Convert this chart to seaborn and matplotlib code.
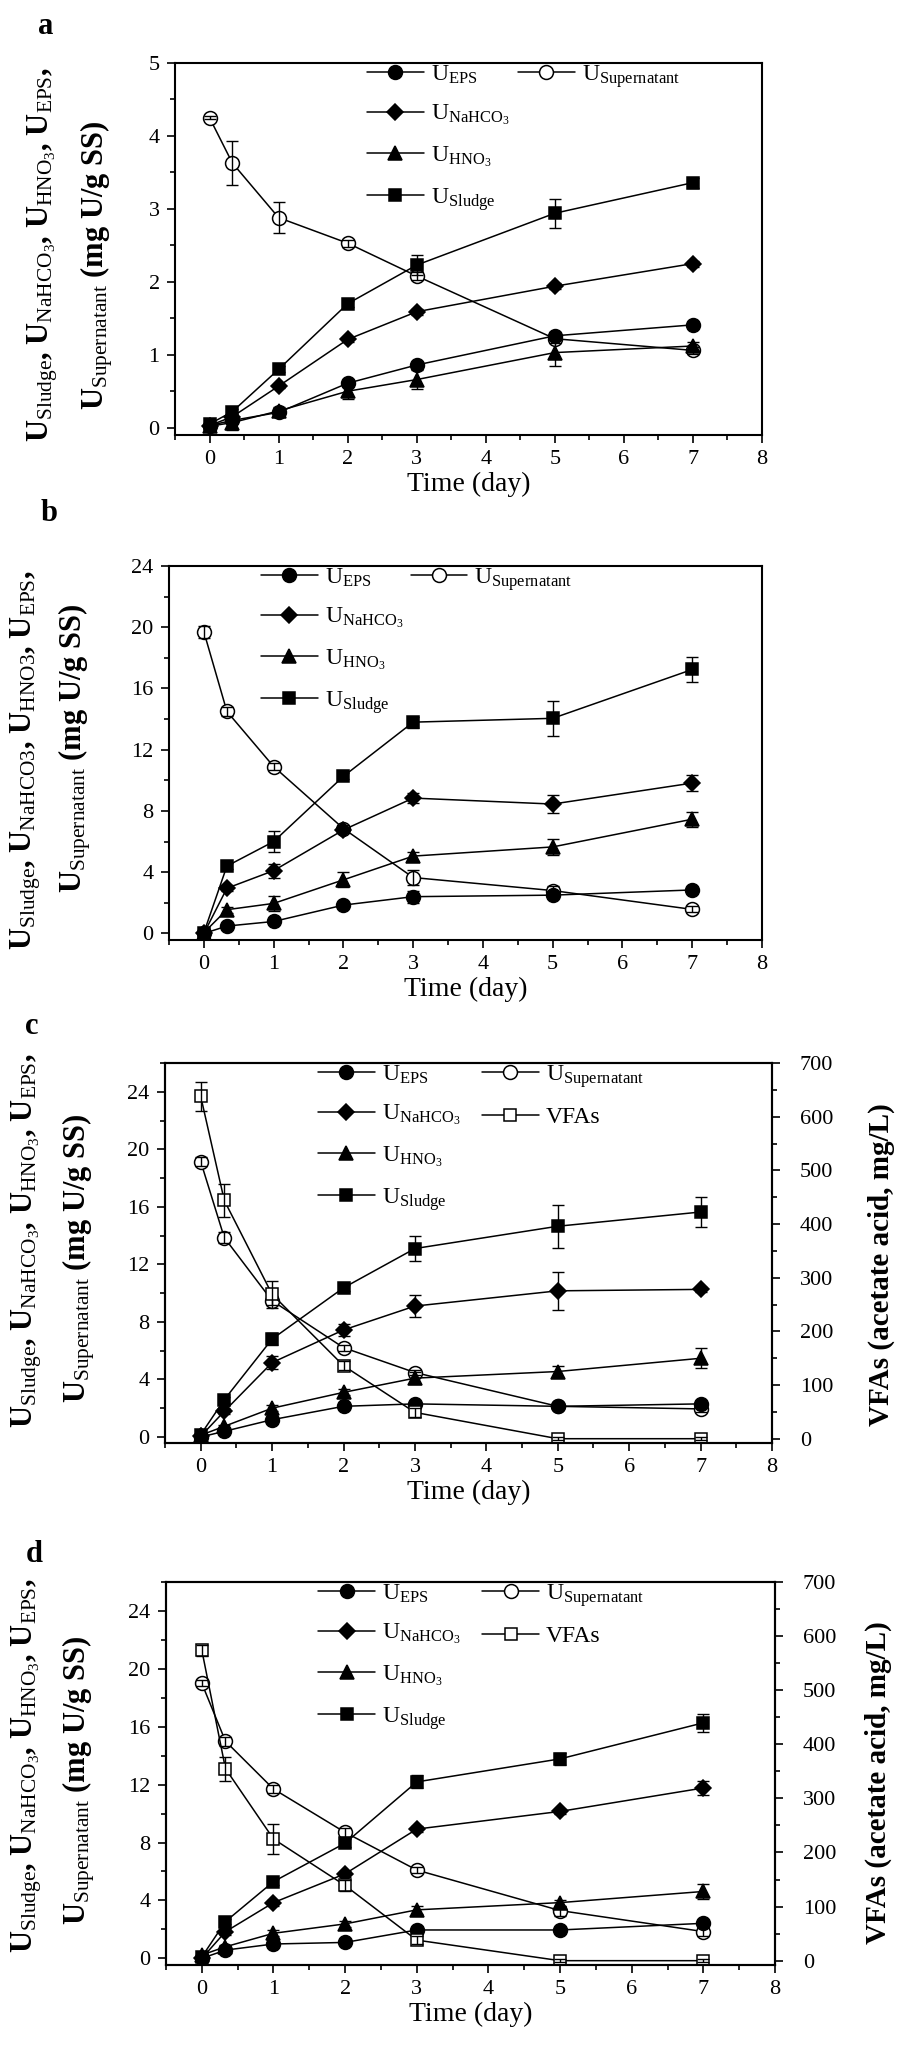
import numpy as np
import pandas as pd
import seaborn as sns
import matplotlib.pyplot as plt
from matplotlib.lines import Line2D
from matplotlib.ticker import MultipleLocator

# =============================================================================
# Data
# =============================================================================
days = [0, 0.33, 1, 2, 3, 5, 7]

# panel a
a_eps = [0.03, 0.10, 0.21, 0.61, 0.86, 1.26, 1.41]
a_eps_err = [0.02, 0.02, 0.03, 0.04, 0.04, 0.05, 0.04]
a_sup = [4.25, 3.63, 2.88, 2.53, 2.08, 1.22, 1.06]
a_sup_err = [0.02, 0.30, 0.21, 0.05, 0.06, 0.06, 0.05]
a_nahco3 = [0.03, 0.15, 0.57, 1.21, 1.59, 1.94, 2.25]
a_nahco3_err = [0.02, 0.03, 0.03, 0.03, 0.04, 0.04, 0.04]
a_hno3 = [0.02, 0.07, 0.23, 0.50, 0.66, 1.03, 1.12]
a_hno3_err = [0.02, 0.10, 0.05, 0.10, 0.13, 0.18, 0.06]
a_sludge = [0.05, 0.22, 0.80, 1.70, 2.23, 2.94, 3.36]
a_sludge_err = [0.02, 0.04, 0.04, 0.04, 0.14, 0.20, 0.07]

# panel b
b_eps = [0.0, 0.48, 0.78, 1.85, 2.40, 2.50, 2.84]
b_eps_err = [0.1, 0.1, 0.1, 0.1, 0.4, 0.15, 0.1]
b_sup = [19.7, 14.5, 10.9, 6.85, 3.65, 2.80, 1.57]
b_sup_err = [0.4, 0.3, 0.2, 0.2, 0.5, 0.3, 0.2]
b_nahco3 = [0.0, 2.95, 4.10, 6.76, 8.84, 8.45, 9.82]
b_nahco3_err = [0.1, 0.2, 0.45, 0.2, 0.3, 0.6, 0.5]
b_hno3 = [0.05, 1.55, 1.96, 3.50, 5.05, 5.65, 7.46]
b_hno3_err = [0.1, 0.2, 0.5, 0.5, 0.3, 0.5, 0.5]
b_sludge = [0.05, 4.40, 6.00, 10.26, 13.80, 14.05, 17.24]
b_sludge_err = [0.1, 0.2, 0.7, 0.2, 0.35, 1.15, 0.8]

# panel c
c_eps = [0.0, 0.39, 1.20, 2.13, 2.30, 2.13, 2.30]
c_eps_err = [0.1, 0.1, 0.1, 0.1, 0.1, 0.1, 0.1]
c_sup = [19.15, 13.86, 9.47, 6.21, 4.48, 2.13, 1.95]
c_sup_err = [0.3, 0.4, 0.3, 0.2, 0.2, 0.2, 0.2]
c_nahco3 = [0.05, 1.78, 5.17, 7.44, 9.10, 10.16, 10.26]
c_nahco3_err = [0.1, 0.2, 0.45, 0.4, 0.75, 1.3, 0.2]
c_hno3 = [0.12, 0.74, 2.00, 3.10, 4.09, 4.55, 5.47]
c_hno3_err = [0.1, 0.1, 0.2, 0.2, 0.4, 0.4, 0.7]
c_sludge = [0.16, 2.59, 6.81, 10.37, 13.10, 14.65, 15.64]
c_sludge_err = [0.2, 0.2, 0.4, 0.2, 0.9, 1.5, 1.05]
c_vfa = [638, 444, 269, 136, 49, 0, 0]
c_vfa_err = [27, 30, 25, 8, 8, 3, 3]

# panel d
d_eps = [0.0, 0.57, 0.99, 1.10, 1.96, 1.96, 2.42]
d_eps_err = [0.1, 0.1, 0.1, 0.1, 0.2, 0.1, 0.1]
d_sup = [19.0, 15.0, 11.7, 8.70, 6.10, 3.30, 1.85]
d_sup_err = [0.2, 0.3, 0.3, 0.3, 0.2, 0.35, 0.3]
d_nahco3 = [0.0, 1.84, 3.85, 5.84, 8.93, 10.15, 11.77]
d_nahco3_err = [0.1, 0.2, 0.2, 0.2, 0.2, 0.2, 0.5]
d_hno3 = [0.23, 0.80, 1.73, 2.38, 3.35, 3.85, 4.62]
d_hno3_err = [0.1, 0.1, 0.2, 0.2, 0.3, 0.2, 0.5]
d_sludge = [0.10, 2.54, 5.30, 7.96, 12.19, 13.78, 16.27]
d_sludge_err = [0.1, 0.2, 0.2, 0.3, 0.45, 0.4, 0.6]
d_vfa = [574, 355, 225, 139, 38, 0, 0]
d_vfa_err = [10, 22, 28, 10, 8, 3, 3]

# =============================================================================
# Style
# =============================================================================
sns.set_theme(style='ticks')
plt.rcParams['font.family'] = ['Liberation Serif', 'DejaVu Serif']
plt.rcParams['mathtext.fontset'] = 'custom'
plt.rcParams['mathtext.rm'] = 'Liberation Serif'
plt.rcParams['mathtext.it'] = 'Liberation Serif:italic'
plt.rcParams['mathtext.bf'] = 'Liberation Serif:bold'
for k in ['axes.edgecolor', 'xtick.color', 'ytick.color', 'text.color', 'axes.labelcolor']:
    plt.rcParams[k] = 'black'

W, H = 898, 2045
fig = plt.figure(figsize=(W / 100, H / 100), dpi=100)


def box(l, t, r, b):
    # pixel box -> figure fraction rect
    return [l / W, 1 - b / H, (r - l) / W, (b - t) / H]


styles = {
    'eps': dict(marker='o', mfc='black', ms=10),
    'sup': dict(marker='o', mfc='white', ms=10),
    'nahco3': dict(marker='D', mfc='black', ms=8.5),
    'hno3': dict(marker='^', mfc='black', ms=10.5),
    'sludge': dict(marker='s', mfc='black', ms=9),
    'vfa': dict(marker='s', mfc='white', ms=9),
}

leg_labels = {
    'eps': r'$\mathrm{U}_{\mathrm{EPS}}$',
    'sup': r'$\mathrm{U}_{\mathrm{Supernatant}}$',
    'nahco3': r'$\mathrm{U}_{\mathrm{NaHCO_3}}$',
    'hno3': r'$\mathrm{U}_{\mathrm{HNO_3}}$',
    'sludge': r'$\mathrm{U}_{\mathrm{Sludge}}$',
    'vfa': 'VFAs',
}


def draw(ax, y, err, key):
    st = styles[key]
    sns.lineplot(x=days, y=y, ax=ax, color='black', linewidth=1.1,
                 marker=st['marker'], markersize=st['ms'],
                 markerfacecolor=st['mfc'], markeredgecolor='black',
                 markeredgewidth=1.1, estimator=None, sort=False, legend=False)
    h = ax.lines[-1]
    ax.errorbar(days, y, yerr=err, fmt='none', ecolor='black',
                elinewidth=1.0, capsize=4, capthick=1.0)
    return h


def style_axis(ax, ymax, ymin, ystep):
    ax.set_xlim(-0.5, 8)
    ax.set_ylim(ymin, ymax)
    ax.xaxis.set_major_locator(MultipleLocator(1))
    ax.xaxis.set_minor_locator(MultipleLocator(0.5))
    ax.yaxis.set_major_locator(MultipleLocator(ystep))
    ax.yaxis.set_minor_locator(MultipleLocator(ystep / 2))
    ax.tick_params(which='both', direction='out', top=False, right=False,
                   width=1.2, labelsize=16, pad=5)
    ax.tick_params(which='major', length=6)
    ax.tick_params(which='minor', length=3.5)
    for s in ax.spines.values():
        s.set_linewidth(1.5)
    ax.set_xlabel('Time (day)', fontsize=20, labelpad=2)
    ax.set_ylabel('')


def ylabel_lines(x1, y1, x2, y2, plain3=False):
    if plain3:
        l1 = (r'$\mathbf{U}_{\mathrm{Sludge}}$, $\mathbf{U}_{\mathrm{NaHCO3}}$, '
              r'$\mathbf{U}_{\mathrm{HNO3}}$, $\mathbf{U}_{\mathrm{EPS}}$,')
    else:
        l1 = (r'$\mathbf{U}_{\mathrm{Sludge}}$, $\mathbf{U}_{\mathrm{NaHCO_3}}$, '
              r'$\mathbf{U}_{\mathrm{HNO_3}}$, $\mathbf{U}_{\mathrm{EPS}}$,')
    l2 = r'$\mathbf{U}_{\mathrm{Supernatant}}$ (mg U/g SS)'
    fig.text(x1 / W, 1 - y1 / H, l1, rotation=90, ha='center', va='center',
             fontsize=22, fontweight='bold')
    fig.text(x2 / W, 1 - y2 / H, l2, rotation=90, ha='center', va='center',
             fontsize=22, fontweight='bold')


def add_legend(ax, handles, keys, anchor, colspace):
    blank = Line2D([], [], linestyle='none')
    hs = list(handles) + [blank] * (8 - len(handles))
    ls = [leg_labels[k] for k in keys] + [''] * (8 - len(keys))
    ax.legend(hs, ls, ncol=2, loc='upper left', bbox_to_anchor=anchor,
              frameon=False, fontsize=17, handlelength=2.4,
              handletextpad=0.3, columnspacing=colspace, labelspacing=0.72,
              borderaxespad=0, borderpad=0)


order = ['eps', 'nahco3', 'hno3', 'sludge', 'sup']

panels = [
    dict(letter='a', rect=(175, 63, 762, 435), ymax=5, ymin=-0.1, ystep=1,
         data=dict(eps=(a_eps, a_eps_err), sup=(a_sup, a_sup_err),
                   nahco3=(a_nahco3, a_nahco3_err), hno3=(a_hno3, a_hno3_err),
                   sludge=(a_sludge, a_sludge_err)),
         vfa=None, lpos=(46, 27), yl=(43, 255, 97, 265), plain3=False,
         anchor=(0.327, 1.0), colspace=0.35),
    dict(letter='b', rect=(169, 566, 762, 940), ymax=24, ymin=-0.43, ystep=4,
         data=dict(eps=(b_eps, b_eps_err), sup=(b_sup, b_sup_err),
                   nahco3=(b_nahco3, b_nahco3_err), hno3=(b_hno3, b_hno3_err),
                   sludge=(b_sludge, b_sludge_err)),
         vfa=None, lpos=(49, 513), yl=(26, 760, 75, 748), plain3=True,
         anchor=(0.155, 1.0), colspace=0.3),
    dict(letter='c', rect=(165, 1063, 772, 1443), ymax=26, ymin=-0.42, ystep=4,
         data=dict(eps=(c_eps, c_eps_err), sup=(c_sup, c_sup_err),
                   nahco3=(c_nahco3, c_nahco3_err), hno3=(c_hno3, c_hno3_err),
                   sludge=(c_sludge, c_sludge_err)),
         vfa=(c_vfa, c_vfa_err), lpos=(32, 1027), yl=(27, 1241, 79, 1258),
         plain3=False, anchor=(0.252, 1.0), colspace=0.9, rl=(881, 1265)),
    dict(letter='d', rect=(166, 1582, 775, 1965), ymax=26, ymin=-0.46, ystep=4,
         data=dict(eps=(d_eps, d_eps_err), sup=(d_sup, d_sup_err),
                   nahco3=(d_nahco3, d_nahco3_err), hno3=(d_hno3, d_hno3_err),
                   sludge=(d_sludge, d_sludge_err)),
         vfa=(d_vfa, d_vfa_err), lpos=(34, 1555), yl=(27, 1766, 79, 1780),
         plain3=False, anchor=(0.25, 1.0), colspace=0.9, rl=(878, 1783)),
]

for p in panels:
    ax = fig.add_axes(box(*p['rect']))
    handles = {}
    # draw supernatant first so the rising series sit above it
    for key in ['sup', 'sludge', 'nahco3', 'hno3', 'eps']:
        y, e = p['data'][key]
        handles[key] = draw(ax, y, e, key)
    style_axis(ax, p['ymax'], p['ymin'], p['ystep'])
    keys = list(order)
    target = ax
    if p['vfa'] is not None:
        ax2 = ax.twinx()
        handles['vfa'] = draw(ax2, p['vfa'][0], p['vfa'][1], 'vfa')
        ax2.set_ylim(-8, 700)
        ax2.yaxis.set_major_locator(MultipleLocator(100))
        ax2.yaxis.set_minor_locator(MultipleLocator(50))
        ax2.tick_params(axis='y', which='both', direction='out', width=1.2,
                        labelsize=16, pad=14)
        ax2.tick_params(axis='y', which='major', length=6)
        ax2.tick_params(axis='y', which='minor', length=3.5)
        for s in ax2.spines.values():
            s.set_linewidth(1.5)
        ax2.set_ylabel('')
        fig.text(p['rl'][0] / W, 1 - p['rl'][1] / H,
                 'VFAs (acetate acid, mg/L)', rotation=90, ha='center',
                 va='center', fontsize=21, fontweight='bold')
        keys.append('vfa')
        target = ax2
    add_legend(target, [handles[k] for k in keys], keys, p['anchor'], p['colspace'])
    x1, y1, x2, y2 = p['yl']
    ylabel_lines(x1, y1, x2, y2, plain3=p['plain3'])
    fig.text(p['lpos'][0] / W, 1 - p['lpos'][1] / H, p['letter'],
             fontsize=22, fontweight='bold', ha='center', va='center')

fig.savefig('out.png', dpi=100)
